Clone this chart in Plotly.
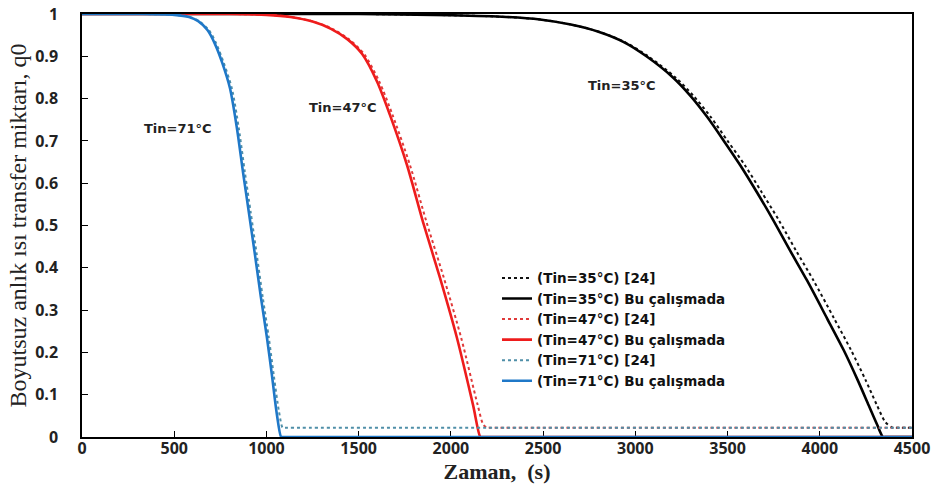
import plotly.graph_objects as go

# Tin=71°C
t71_ref = [0, 300, 500, 585, 636, 688, 728, 768, 812, 850, 883, 915, 948, 980, 1013, 1040, 1068, 1088, 1100, 1150, 2500, 4500]
q71_ref = [1.0, 1.0, 0.998, 0.993, 0.983, 0.962, 0.93, 0.885, 0.825, 0.73, 0.626, 0.53, 0.43, 0.33, 0.234, 0.145, 0.06, 0.022, 0.022, 0.022, 0.022, 0.022]
t71 = [0, 300, 500, 580, 630, 680, 720, 760, 802, 840, 873, 905, 938, 970, 1003, 1030, 1057, 1080, 1090, 1150, 2500, 4500]
q71 = [1.0, 1.0, 0.998, 0.993, 0.983, 0.962, 0.93, 0.885, 0.825, 0.73, 0.626, 0.53, 0.43, 0.33, 0.234, 0.145, 0.052, 0.0, 0.0, 0.0, 0.0, 0.0]

# Tin=47°C
t47_ref = [0, 400, 800, 1000, 1135, 1255, 1357, 1448, 1530, 1612, 1684, 1778, 1868, 1962, 2056, 2145, 2175, 2195, 2210, 2260, 3300, 4500]
q47_ref = [1.0, 1.0, 1.0, 0.998, 0.993, 0.982, 0.965, 0.94, 0.905, 0.84, 0.761, 0.643, 0.508, 0.376, 0.234, 0.076, 0.03, 0.022, 0.022, 0.022, 0.022, 0.022]
t47 = [0, 400, 800, 1000, 1130, 1250, 1350, 1440, 1520, 1600, 1670, 1762, 1849, 1941, 2033, 2120, 2160, 2170, 2220, 3300, 4500]
q47 = [1.0, 1.0, 1.0, 0.998, 0.993, 0.982, 0.965, 0.94, 0.905, 0.84, 0.761, 0.643, 0.508, 0.376, 0.234, 0.076, 0.0, 0.0, 0.0, 0.0, 0.0]

# Tin=35°C
t35_ref = [0, 700, 1500, 2000, 2300, 2483, 2652, 2804, 2946, 3070, 3218, 3316, 3408, 3500, 3593, 3686, 3776, 3872, 3966, 4078, 4170, 4248, 4310, 4356, 4395, 4405, 4430, 4470, 4500]
q35_ref = [1.0, 1.0, 1.0, 0.997, 0.993, 0.987, 0.975, 0.958, 0.933, 0.9, 0.85, 0.806, 0.757, 0.70, 0.643, 0.578, 0.514, 0.44, 0.37, 0.28, 0.205, 0.135, 0.075, 0.035, 0.022, 0.022, 0.022, 0.022, 0.022]
t35 = [0, 700, 1500, 2000, 2300, 2483, 2650, 2800, 2940, 3060, 3204, 3300, 3389, 3480, 3568, 3660, 3746, 3840, 3931, 4040, 4130, 4205, 4265, 4310, 4343, 4360, 4430, 4470, 4500]
q35 = [1.0, 1.0, 1.0, 0.997, 0.993, 0.987, 0.975, 0.958, 0.933, 0.9, 0.85, 0.806, 0.757, 0.70, 0.643, 0.578, 0.514, 0.44, 0.37, 0.28, 0.205, 0.135, 0.075, 0.03, 0.0, 0.0, 0.0, 0.0, 0.0]

x_ticks = [0, 500, 1000, 1500, 2000, 2500, 3000, 3500, 4000, 4500]
y_ticks = [0, 0.1, 0.2, 0.3, 0.4, 0.5, 0.6, 0.7, 0.8, 0.9, 1]
y_ticktext = ["0", "0.1", "0.2", "0.3", "0.4", "0.5", "0.6", "0.7", "0.8", "0.9", "1"]

labels = ["Tin=71°C", "Tin=47°C", "Tin=35°C"]
label_x = [520, 1415, 2928]
label_y = [0.73, 0.78, 0.83]

fig = go.Figure()
series = [
    ("(Tin=35°C) [24]", t35_ref, q35_ref, "#111111", "dot", 2),
    ("(Tin=35°C) Bu çalışmada", t35, q35, "#000000", "solid", 2.6),
    ("(Tin=47°C) [24]", t47_ref, q47_ref, "#e03a3a", "dot", 2),
    ("(Tin=47°C) Bu çalışmada", t47, q47, "#ee1c1c", "solid", 2.6),
    ("(Tin=71°C) [24]", t71_ref, q71_ref, "#4f8fa8", "dot", 2),
    ("(Tin=71°C) Bu çalışmada", t71, q71, "#1f78c8", "solid", 2.6),
]
for name, x, y, c, d, w in series:
    fig.add_trace(go.Scatter(x=x, y=y, mode="lines", name=name, cliponaxis=False,
                             line=dict(color=c, dash=d, width=w, shape="spline", smoothing=0.8)))

for txt, x, y in zip(labels, label_x, label_y):
    fig.add_annotation(x=x, y=y, text=txt, showarrow=False,
                       font=dict(family="DejaVu Sans", size=13, color="#222222", weight="bold"))

fig.update_layout(
    width=936, height=495,
    margin=dict(l=82, r=24, t=14, b=58),
    paper_bgcolor="white", plot_bgcolor="white",
    showlegend=True,
    legend=dict(x=0.5, y=0.412, xanchor="left", yanchor="top",
                bgcolor="rgba(255,255,255,0)", tracegroupgap=0,
                font=dict(family="DejaVu Sans", size=13.5, color="#111111", weight="bold")),
    xaxis=dict(range=[0, 4500], tickvals=x_ticks, showgrid=False, zeroline=False, automargin=False,
               showline=True, linecolor="black", linewidth=1.5, mirror=True, layer="below traces",
               ticks="inside", ticklen=6, tickcolor="black", ticklabelstandoff=-4,
               tickfont=dict(family="Open Sans", size=16, color="#222222", weight="bold"),
               title=dict(text="Zaman,  (s)", standoff=0,
                          font=dict(family="Liberation Serif", size=22, color="#222222", weight="bold"))),
    yaxis=dict(range=[0, 1], tickvals=y_ticks, ticktext=y_ticktext, showgrid=False, zeroline=False, automargin=False,
               showline=True, linecolor="black", linewidth=1.5, mirror=True, layer="below traces",
               ticks="inside", ticklen=6, tickcolor="black", ticklabelstandoff=19,
               tickfont=dict(family="Open Sans", size=16, color="#222222", weight="bold"),
               title=dict(text="Boyutsuz anlık ısı transfer miktarı, q0", standoff=2,
                          font=dict(family="Liberation Serif", size=24, color="#222222"))),
)

fig.write_html("out.html", config={"displayModeBar": False},
               post_script="document.body.style.margin='0px';")
